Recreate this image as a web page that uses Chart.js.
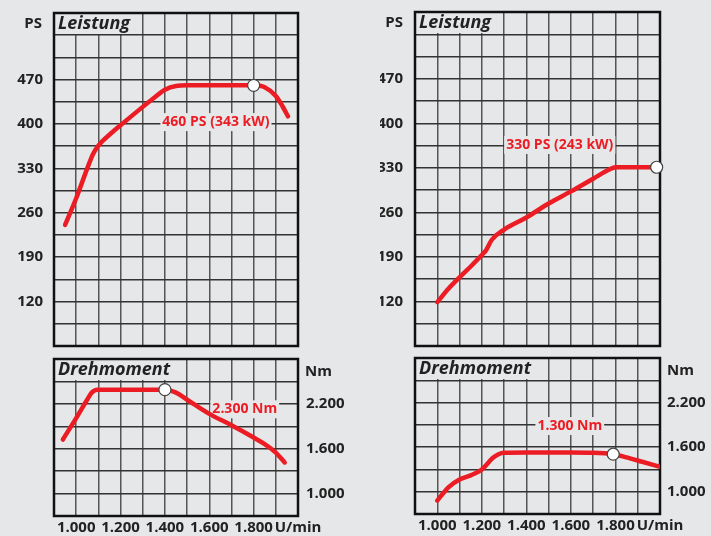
<!DOCTYPE html>
<html>
<head>
<meta charset="utf-8">
<script src="https://cdn.jsdelivr.net/npm/chart.js@4.4.1/dist/chart.umd.min.js"></script>
<style>
html, body { margin: 0; padding: 0; background: #e6e7e9; }
body { width: 711px; height: 536px; position: relative; overflow: hidden; }
canvas { position: absolute; display: block; }
</style>
</head>
<body>
<canvas id="psLeft" width="370" height="352" style="left:0;top:0"></canvas>
<canvas id="psRight" width="331" height="352" style="left:380px;top:0"></canvas>
<canvas id="nmLeft" width="370" height="184" style="left:0;top:352px"></canvas>
<canvas id="nmRight" width="331" height="184" style="left:380px;top:352px"></canvas>
<script>
// Achsen
const rpmTicks = [1000, 1200, 1400, 1600, 1800];
const rpmUnit = 'U/min';
const psTicks = [120, 190, 260, 330, 400, 470];
const nmTicks = [1000, 1600, 2200];

// Motor links: Leistung
const psLeftRpm = [950, 1000, 1050, 1075, 1100, 1150, 1200, 1300, 1350, 1400, 1450, 1500, 1600, 1700, 1800, 1850, 1900, 1930, 1955];
const psLeftVal = [241, 283, 330, 352, 366, 383, 398, 427, 441, 454, 460, 461, 461, 461, 461, 458, 444, 428, 412];
const psLeftPeak = [1800, 461];
// Motor links: Drehmoment
const nmLeftRpm = [940, 1000, 1050, 1070, 1095, 1200, 1300, 1400, 1450, 1500, 1600, 1700, 1800, 1850, 1900, 1940];
const nmLeftVal = [1723, 2010, 2258, 2350, 2390, 2390, 2390, 2390, 2350, 2255, 2066, 1914, 1750, 1661, 1549, 1416];
const nmLeftPeak = [1400, 2390];

// Motor rechts: Leistung
const psRightRpm = [1000, 1050, 1100, 1150, 1200, 1220, 1245, 1300, 1400, 1500, 1600, 1700, 1770, 1800, 1985];
const psRightVal = [119, 140, 158, 175, 193, 201, 217, 233, 252, 274, 293, 313, 327, 331, 331];
const psRightPeak = [1985, 331];
// Motor rechts: Drehmoment
const nmRightRpm = [1000, 1050, 1100, 1150, 1200, 1250, 1275, 1300, 1400, 1500, 1600, 1700, 1790, 1850, 1920, 2000];
const nmRightVal = [880, 1060, 1165, 1220, 1300, 1457, 1505, 1525, 1528, 1528, 1528, 1525, 1505, 1462, 1403, 1336];
const nmRightPeak = [1790, 1505];

const BG = '#e6e7e9';
const RED = '#ec1c24';
const INK = '#222';
const FONT = '"Open Sans", "Noto Sans", sans-serif';

Chart.defaults.font.family = FONT;
Chart.defaults.color = INK;

function dots(v) {
    return String(v).replace(/\B(?=(\d{3})+$)/g, '.');
}

// Chart.js reserviert sonst Platz für halbe Beschriftungen an den Achsenenden
function noOverhang(s) {
    s.paddingTop = 0;
    s.paddingBottom = 0;
    s.paddingLeft = 0;
    s.paddingRight = 0;
}

// Rahmen, Titel, Einheit und Spitzenwert-Beschriftung
const deco = {
    id: 'deco',
    beforeDatasetsDraw(chart, args, o) {
        const { ctx, chartArea: a, scales } = chart;
        ctx.save();
        ctx.fillStyle = BG;
        ctx.font = 'italic bold 18px ' + FONT;
        const tw = ctx.measureText(o.title).width;
        ctx.fillRect(a.left, a.top, tw + 9, 21);
        ctx.font = 'bold 14px ' + FONT;
        const lw = ctx.measureText(o.label).width;
        const lx = scales.x.getPixelForValue(o.labelAt[0]);
        const ly = scales.y.getPixelForValue(o.labelAt[1]);
        ctx.fillRect(lx - lw / 2 - 2, ly - 9, lw + 4, 18);
        // Rahmen
        ctx.strokeStyle = '#111';
        ctx.lineWidth = 2.5;
        ctx.strokeRect(a.left, a.top, a.right - a.left, a.bottom - a.top);
        ctx.restore();
    },
    afterDatasetsDraw(chart, args, o) {
        const { ctx, chartArea: a, scales } = chart;
        ctx.save();
        ctx.textBaseline = 'middle';
        ctx.fillStyle = INK;
        ctx.font = 'italic bold 18px ' + FONT;
        ctx.textAlign = 'left';
        ctx.fillText(o.title, a.left + 4, a.top + 11);
        ctx.font = 'bold 15px ' + FONT;
        if (o.unitSide === 'left') {
            ctx.textAlign = 'right';
            ctx.fillText(o.unit, a.left - 12, a.top + 11);
        } else {
            ctx.textAlign = 'left';
            ctx.fillText(o.unit, a.right + 7, a.top + 13);
        }
        ctx.fillStyle = RED;
        ctx.font = 'bold 14px ' + FONT;
        ctx.textAlign = 'center';
        ctx.fillText(o.label, scales.x.getPixelForValue(o.labelAt[0]), scales.y.getPixelForValue(o.labelAt[1]));
        ctx.restore();
    }
};

function makeChart(id, cfg) {
    const curve = cfg.rpm.map((r, i) => ({ x: r, y: cfg.val[i] }));
    const isPower = cfg.kind === 'ps';
    const yTicks = isPower ? psTicks : nmTicks;
    const t = cfg.area;

    const chart = new Chart(document.getElementById(id), {
        type: 'line',
        data: {
            datasets: [
                {
                    data: [{ x: cfg.peak[0], y: cfg.peak[1] }],
                    showLine: false,
                    pointRadius: 6,
                    pointBackgroundColor: '#fff',
                    pointBorderColor: '#444',
                    pointBorderWidth: 1.2,
                    clip: false,
                    order: 0
                },
                {
                    data: curve,
                    borderColor: RED,
                    borderWidth: 4.5,
                    pointRadius: 0,
                    cubicInterpolationMode: 'monotone',
                    borderCapStyle: 'round',
                    borderJoinStyle: 'round',
                    order: 1
                }
            ]
        },
        options: {
            responsive: false,
            animation: false,
            events: [],
            layout: { autoPadding: false, padding: { top: t.top, left: 0, right: 0, bottom: 0 } },
            plugins: {
                legend: { display: false },
                tooltip: { enabled: false },
                deco: { title: cfg.title, unit: cfg.unit, unitSide: isPower ? 'left' : 'right', label: cfg.label, labelAt: cfg.labelAt }
            },
            scales: {
                x: {
                    type: 'linear',
                    min: 900, max: 2000,
                    border: { display: false },
                    grid: { color: '#555', lineWidth: 1.5, drawTicks: false },
                    ticks: {
                        display: !isPower,
                        stepSize: 100,
                        autoSkip: false,
                        maxRotation: 0, minRotation: 0,
                        padding: 3,
                        font: { size: 15, weight: 'bold' },
                        callback: v => rpmTicks.includes(v) ? dots(v) : (v === 2000 ? rpmUnit : '')
                    },
                    afterFit: noOverhang
                },
                y: {
                    position: isPower ? 'left' : 'right',
                    min: isPower ? 50 : 700,
                    max: isPower ? 575 : 2800,
                    border: { display: false },
                    grid: { color: '#333', lineWidth: 1.5, drawTicks: false },
                    ticks: {
                        stepSize: isPower ? 35 : 300,
                        autoSkip: false,
                        padding: cfg.yPad,
                        font: { size: 15, weight: 'bold' },
                        callback: v => yTicks.includes(v) ? dots(v) : ''
                    },
                    afterFit: noOverhang
                }
            }
        },
        plugins: [deco]
    });

    // Polsterung nachziehen, bis die Zeichenfläche an der gewünschten Stelle liegt
    const pad = { top: t.top, left: 0, right: 0, bottom: 0 };
    for (let i = 0; i < 4; i++) {
        const a = chart.chartArea;
        pad.top += t.top - a.top;
        pad.left += t.left - a.left;
        pad.right += a.right - t.right;
        pad.bottom += a.bottom - t.bottom;
        chart.options.layout.padding = Object.assign({}, pad);
        chart.update();
    }
}

makeChart('psLeft', {
    kind: 'ps', rpm: psLeftRpm, val: psLeftVal, peak: psLeftPeak,
    title: 'Leistung', unit: 'PS', label: '460 PS (343 kW)', labelAt: [1630, 403],
    area: { left: 54, top: 13, right: 298, bottom: 346 }, yPad: 11
});
makeChart('psRight', {
    kind: 'ps', rpm: psRightRpm, val: psRightVal, peak: psRightPeak,
    title: 'Leistung', unit: 'PS', label: '330 PS (243 kW)', labelAt: [1550, 366],
    area: { left: 35, top: 12, right: 280, bottom: 346 }, yPad: 12
});
makeChart('nmLeft', {
    kind: 'nm', rpm: nmLeftRpm, val: nmLeftVal, peak: nmLeftPeak,
    title: 'Drehmoment', unit: 'Nm', label: '2.300 Nm', labelAt: [1760, 2127],
    area: { left: 54, top: 7, right: 298, bottom: 164 }, yPad: 8
});
makeChart('nmRight', {
    kind: 'nm', rpm: nmRightRpm, val: nmRightVal, peak: nmRightPeak,
    title: 'Drehmoment', unit: 'Nm', label: '1.300 Nm', labelAt: [1595, 1884],
    area: { left: 35, top: 6, right: 280, bottom: 162 }, yPad: 7
});
</script>
</body>
</html>
